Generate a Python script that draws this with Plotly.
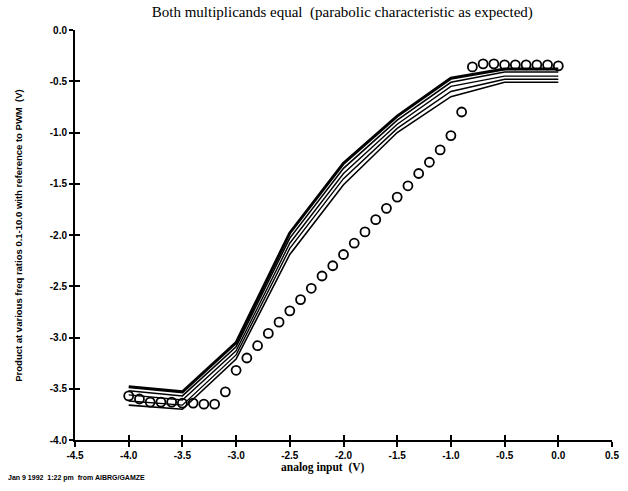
import plotly.graph_objects as go

# ---- data ----
line_x = [-4.0, -3.5, -3.0, -2.5, -2.0, -1.5, -1.0, -0.5, 0.0]
line_series = {
    "ratio_a": [-3.48, -3.53, -3.05, -1.98, -1.30, -0.84, -0.47, -0.38, -0.38],
    "ratio_b": [-3.52, -3.57, -3.09, -2.03, -1.35, -0.88, -0.51, -0.41, -0.41],
    "ratio_c": [-3.56, -3.61, -3.13, -2.08, -1.40, -0.92, -0.55, -0.45, -0.45],
    "ratio_d": [-3.62, -3.66, -3.17, -2.13, -1.45, -0.96, -0.60, -0.48, -0.48],
    "ratio_e": [-3.66, -3.70, -3.21, -2.19, -1.51, -1.00, -0.65, -0.51, -0.51],
}
line_widths = [3.0, 1.6, 1.4, 1.4, 1.6]

circle_x = [-4.0, -3.9, -3.8, -3.7, -3.6, -3.5, -3.4, -3.3, -3.2, -3.1,
            -3.0, -2.9, -2.8, -2.7, -2.6, -2.5, -2.4, -2.3, -2.2, -2.1,
            -2.0, -1.9, -1.8, -1.7, -1.6, -1.5, -1.4, -1.3, -1.2, -1.1,
            -1.0, -0.9, -0.8, -0.7, -0.6, -0.5, -0.4, -0.3, -0.2, -0.1, 0.0]
circle_y = [-3.57, -3.60, -3.63, -3.63, -3.63, -3.64, -3.64, -3.65, -3.65, -3.53,
            -3.32, -3.20, -3.08, -2.96, -2.85, -2.74, -2.63, -2.52, -2.40, -2.30,
            -2.19, -2.08, -1.97, -1.85, -1.74, -1.63, -1.52, -1.40, -1.29, -1.17,
            -1.03, -0.80, -0.36, -0.33, -0.33, -0.34, -0.34, -0.34, -0.34, -0.34, -0.35]

x_ticks = [-4.5, -4.0, -3.5, -3.0, -2.5, -2.0, -1.5, -1.0, -0.5, 0.0, 0.5]
y_ticks = [0.0, -0.5, -1.0, -1.5, -2.0, -2.5, -3.0, -3.5, -4.0]

title_text = "Both multiplicands equal  (parabolic characteristic as expected)"
x_title = "analog input  (V)"
y_title = "Product at various freq ratios 0.1-10.0 with reference to PWM  (V)"
footer = "Jan 9 1992  1:22 pm  from AIBRG/GAMZE"

W, H = 628, 491
ML, MR, MT, MB = 75, 9, 30, 51
PW, PH = W - ML - MR, H - MT - MB


def px_to_paper(px, py):
    return (px - ML) / PW, (H - MB - py) / PH


fig = go.Figure()
for (name, ys), w in zip(line_series.items(), line_widths):
    fig.add_trace(go.Scatter(x=line_x, y=ys, mode="lines", name=name,
                             line=dict(color="black", width=w), showlegend=False))
fig.add_trace(go.Scatter(x=circle_x, y=circle_y, mode="markers", showlegend=False,
                         marker=dict(symbol="circle-open", size=9, color="black",
                                     line=dict(width=1.8, color="black"))))
# invisible trace on overlay axes so the inner half of the crossing ticks is drawn
fig.add_trace(go.Scatter(x=[-10], y=[10], xaxis="x2", yaxis="y2", mode="markers",
                         marker=dict(size=1, opacity=0), showlegend=False, hoverinfo="skip"))

tickfont = dict(family="Liberation Sans", size=10, color="black", weight="bold")
common_x = dict(range=[-4.5, 0.5], tickvals=x_ticks, showgrid=False, zeroline=False)
common_y = dict(range=[-4.0, 0.0], tickvals=y_ticks, showgrid=False, zeroline=False)

xt_x, xt_y = px_to_paper(326, 467)
yt_x, yt_y = px_to_paper(17, 236)
ft_x, ft_y = px_to_paper(5, 478)

fig.update_layout(
    width=W, height=H,
    margin=dict(l=ML, r=MR, t=MT, b=MB),
    paper_bgcolor="white", plot_bgcolor="white",
    title=dict(text=title_text, x=0.545, xanchor="center", xref="container",
               y=1 - 12 / H, yanchor="middle", yref="container",
               font=dict(family="Liberation Serif", size=15, color="black")),
    xaxis=dict(**common_x, ticktext=[f"{v:.1f}" for v in x_ticks],
               showline=True, linecolor="black", linewidth=2,
               ticks="outside", ticklen=5, tickwidth=1.5, tickcolor="black",
               tickfont=tickfont),
    yaxis=dict(**common_y, ticktext=[f"{v:.1f}" for v in y_ticks],
               showline=True, linecolor="black", linewidth=2,
               ticks="outside", ticklen=4, tickwidth=1.5, tickcolor="black",
               tickfont=tickfont),
    xaxis2=dict(**common_x, overlaying="x", anchor="y", side="bottom",
                showline=False, ticks="inside", ticklen=5, tickwidth=1.5,
                tickcolor="black", showticklabels=False),
    yaxis2=dict(**common_y, overlaying="y", anchor="x", side="left",
                showline=False, ticks="inside", ticklen=5, tickwidth=1.5,
                tickcolor="black", showticklabels=False),
    annotations=[
        dict(text=x_title, x=xt_x, y=xt_y, xref="paper", yref="paper",
             xanchor="center", yanchor="middle", showarrow=False,
             font=dict(family="Liberation Serif", size=11.5, color="black", weight="bold")),
        dict(text=y_title, x=yt_x, y=yt_y, xref="paper", yref="paper",
             xanchor="center", yanchor="middle", showarrow=False, textangle=-90,
             font=dict(family="Liberation Sans", size=9.5, color="black", weight="bold")),
        dict(text=footer, x=ft_x, y=ft_y, xref="paper", yref="paper",
             xanchor="left", yanchor="middle", showarrow=False,
             font=dict(family="Liberation Sans", size=7, color="black", weight="bold")),
    ],
)

fig.write_html("out.html", config={"displayModeBar": False},
               post_script="document.body.style.margin='0';")
